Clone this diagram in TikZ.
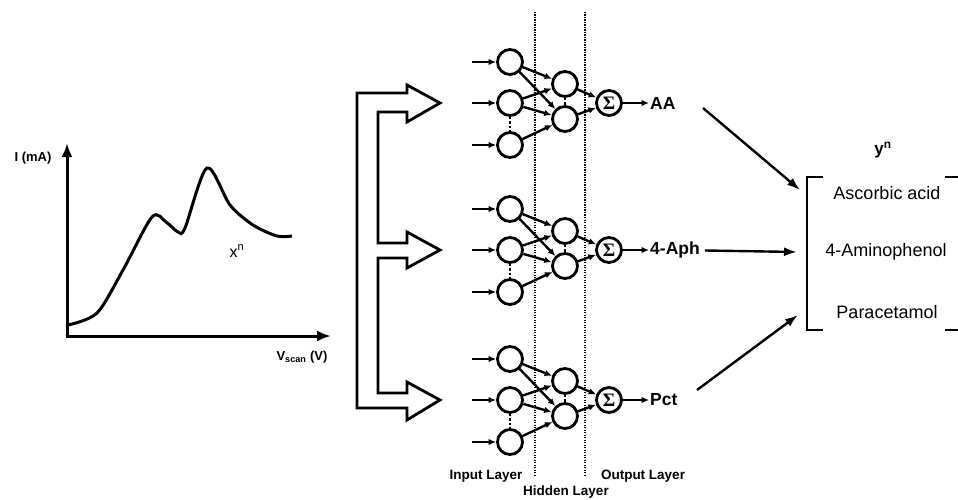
\documentclass[tikz,border=0pt]{standalone}
\usepackage{fontspec}
\setmainfont{Liberation Sans}
\newfontfamily\sigmafont{Liberation Serif}
\usetikzlibrary{arrows.meta, positioning, calc}

\begin{document}
\begin{tikzpicture}[
    x=1pt, y=-1pt,
    >={Latex[length=7.5pt, width=6.5pt]},
    neuron/.style={draw, circle, line width=2.8pt, minimum size=25pt,
                   inner sep=0pt},
    sumnode/.style={draw, circle, line width=2.8pt, minimum size=25pt,
                    inner sep=0pt, font=\fontsize{19}{19}\sigmafont\bfseries},
    wire/.style={line width=2.4pt},
    layerline/.style={line width=2.4pt, dash pattern=on 1.4pt off 1.1pt},
    outlbl/.style={font=\fontsize{17.5}{19}\selectfont\bfseries, inner sep=1pt},
    species/.style={font=\fontsize{18}{20}\selectfont},
    layerlbl/.style={font=\fontsize{13.5}{15}\selectfont\bfseries},
    axislbl/.style={font=\fontsize{13}{15}\selectfont\bfseries},
    bigtip/.style={-{Latex[length=13pt, width=9pt]}}
  ]
  \useasboundingbox (0,0) rectangle (958,500);

  % Voltammogram
  \coordinate (ytip) at (67,143);
  \coordinate (xtip) at (331,336);
  \draw[line width=3pt, {Latex[length=14pt, width=11pt]}-{Latex[length=14pt, width=11pt]}]
    (ytip) |- (xtip);
  \node[axislbl] (ilbl) at (33,158) {I (mA)};
  \node[axislbl] (vlbl) at (302,357) {V\textsubscript{scan} (V)};
  \draw[line width=3pt] plot[smooth, tension=0.5] coordinates {
    (68,325) (97,313) (123,270) (152,217) (166,222) (178,232) (185,228)
    (207,168) (230,205) (253,225) (277,236) (292,236)};
  \node[font=\fontsize{16}{18}\selectfont] (xn) at (237,251) {x\textsuperscript{n}};

  % Hollow block arrows feeding the networks
  \draw[line width=2.8pt, fill=white, line join=miter]
    (357,93) -- (407,93) -- (407,85) -- (440,103) -- (407,122) -- (407,112)
    -- (378,112) -- (378,243) -- (407,243) -- (407,232) -- (440,250)
    -- (407,268) -- (407,258) -- (378,258) -- (378,393) -- (407,393)
    -- (407,382) -- (440,400) -- (407,420) -- (407,408) -- (357,408) -- cycle;

  % Layer separators
  \foreach \x in {535,585} {
    \draw[layerline] (\x,12) -- (\x,476);
  }
  \node[layerlbl] (inlayer) at (486,476) {Input Layer};
  \node[layerlbl] (hidlayer) at (566,492) {Hidden Layer};
  \node[layerlbl] (outlayer) at (643,476) {Output Layer};

  % Three small networks
  \foreach \n/\yc/\lbl in {a/103/AA, b/250/4-Aph, c/400/Pct} {
    \foreach \k/\dy in {1/-41, 2/0, 3/42} {
      \node[neuron, fill=white] (\n-in\k) at (510, \yc+\dy) {};
      \coordinate (\n-src\k) at (472, \yc+\dy);
      \draw[wire, ->] (\n-src\k) -- (\n-in\k);
    }
    \node[neuron, fill=white] (\n-h1) at (565, \yc-19) {};
    \node[neuron, fill=white] (\n-h2) at (565, \yc+16) {};
    \node[sumnode, fill=white] (\n-sum) at (609, \yc) {Σ};
    \node[outlbl, anchor=west] (\n-out) at (649, \yc) {\lbl};
    \foreach \i/\j in {1/1, 1/2, 2/1, 2/2, 3/2}
      \draw[wire, ->] (\n-in\i) -- (\n-h\j);
    \foreach \j in {1,2}
      \draw[wire, ->] (\n-h\j) -- (\n-sum);
    \draw[wire, ->] (\n-sum) -- (\n-out);
    \draw[wire, dotted] (\n-in2) -- (\n-in3);
    \draw[wire, dotted] (\n-h1) -- (\n-h2);
  }

  % Output vector
  \node[font=\fontsize{17}{19}\selectfont\bfseries] (yn) at (883,150) {y\textsuperscript{n}};
  \node[species] (aa) at (887,193) {Ascorbic acid};
  \node[species] (aph) at (886,252) {4-Aminophenol};
  \node[species] (pct) at (887,312) {Paracetamol};
  \draw[line width=2.8pt] (823,177) -- (807,177) -- (807,330) -- (823,330);
  \draw[line width=2.8pt] (945,177) -- (958,177);
  \draw[line width=2.8pt] (945,330) -- (958,330);

  \coordinate (a-from) at (703,108);
  \coordinate (a-to) at (800,190);
  \coordinate (b-to) at (797,252);
  \coordinate (c-from) at (697,390);
  \coordinate (c-to) at (798,315);
  \draw[line width=2.4pt, bigtip] (a-from) -- (a-to);
  \draw[line width=2.4pt, bigtip, shorten <=4pt] (b-out) -- (b-to);
  \draw[line width=2.4pt, bigtip] (c-from) -- (c-to);
\end{tikzpicture}
\end{document}
